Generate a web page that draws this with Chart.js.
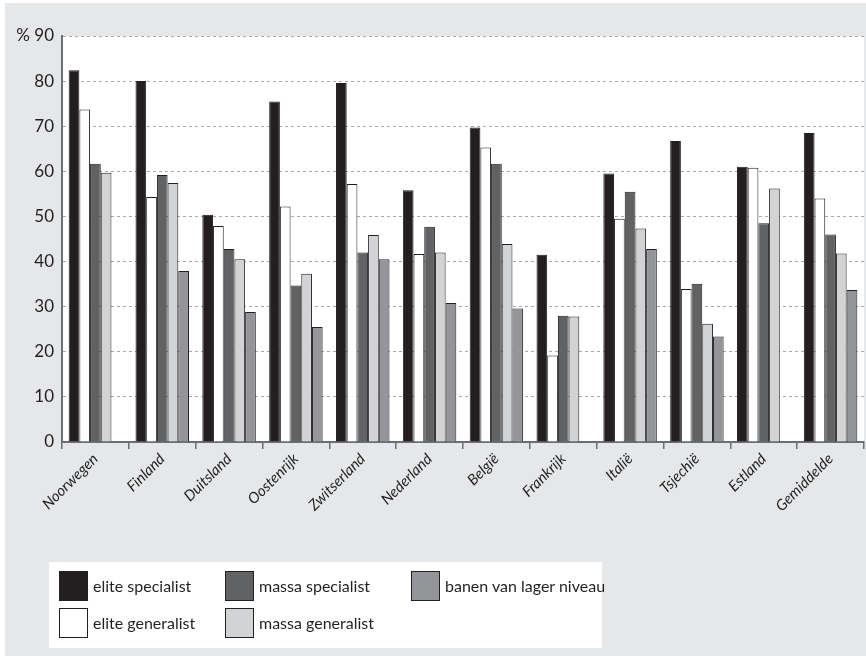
<!DOCTYPE html>
<html>
<head>
<meta charset="utf-8">
<script src="https://cdn.jsdelivr.net/npm/chart.js@4/dist/chart.umd.min.js"></script>
<style>
  body { margin: 0; background: #fff; font-family: Lato, "Liberation Sans", sans-serif; }
  #bg { position: absolute; left: 5px; top: 3px; width: 861px; height: 653px; background: #e6e7e8; }
  #wrap { position: absolute; left: 0; top: 0; width: 866px; height: 656px; }
  #legend {
    position: absolute; left: 49px; top: 562px; width: 553px; height: 86px; background: #fff;
    box-sizing: border-box; padding: 9px 0 0 10px;
    display: grid; grid-auto-flow: column; grid-template-rows: 37px 37px; grid-template-columns: 166px 186px auto;
  }
  .item { display: flex; align-items: flex-start; color: #231f20; font-size: 16px; white-space: nowrap; }
  .item span.box { width: 29px; height: 30px; box-sizing: border-box; border: 1.5px solid #231f20; margin-right: 5px; flex: none; }
  .item span.txt { line-height: 30px; }
</style>
</head>
<body>
<div id="bg"></div>
<div id="wrap"><canvas id="chart" width="866" height="656"></canvas></div>
<div id="legend"></div>
<script>
  // categories + series (values in %)
  var countries = ["Noorwegen", "Finland", "Duitsland", "Oostenrijk", "Zwitserland", "Nederland", "België", "Frankrijk", "Italië", "Tsjechië", "Estland", "Gemiddelde"];
  var eliteSpecialist   = [82.4, 80.0, 50.4, 75.5, 79.6, 55.8, 69.7, 41.5, 59.5, 66.7, 61.0, 68.5];
  var eliteGeneralist   = [73.7, 54.3, 47.9, 52.2, 57.2, 41.7, 65.3, 19.2, 49.5, 33.9, 60.8, 54.0];
  var massaSpecialist   = [61.7, 59.2, 42.8, 34.7, 42.0, 47.7, 61.7, 28.0, 55.5, 35.1, 48.5, 46.0];
  var massaGeneralist   = [59.7, 57.4, 40.5, 37.3, 45.9, 42.0, 43.9, 27.8, 47.3, 26.2, 56.2, 41.8];
  var lagerNiveau       = [null, 37.9, 28.8, 25.5, 40.5, 30.8, 29.6, null, 42.8, 23.4, null, 33.7];
  var yTickLabels = ["0", "10", "20", "30", "40", "50", "60", "70", "80", "% 90"];

  var FONT = 'Lato, "Liberation Sans", sans-serif';
  var INK = "#231f20";

  function ds(label, data, color) {
    return {
      label: label, data: data, backgroundColor: color,
      borderColor: INK, borderWidth: 1,
      categoryPercentage: 0.8, barPercentage: 1.0
    };
  }

  // white plot background
  var plotBg = {
    id: "plotBg",
    beforeDraw: function(chart) {
      var a = chart.chartArea, ctx = chart.ctx;
      ctx.save();
      ctx.fillStyle = "#fff";
      ctx.fillRect(a.left, a.top, a.right - a.left, a.bottom - a.top);
      ctx.restore();
    }
  };

  var chart = new Chart(document.getElementById("chart"), {
    type: "bar",
    data: {
      labels: countries,
      datasets: [
        ds("elite specialist", eliteSpecialist, "#231f20"),
        ds("elite generalist", eliteGeneralist, "#ffffff"),
        ds("massa specialist", massaSpecialist, "#616264"),
        ds("massa generalist", massaGeneralist, "#d1d3d4"),
        ds("banen van lager niveau", lagerNiveau, "#939598")
      ]
    },
    options: {
      responsive: false,
      animation: false,
      layout: { padding: { top: 36, right: 2, left: 0, bottom: 0 } },
      plugins: { legend: { display: false }, tooltip: { enabled: false } },
      scales: {
        x: {
          afterFit: function(s) { s.height = 214; },
          grid: { offset: true, drawOnChartArea: false, tickLength: 7, color: "#6d6e71", lineWidth: 1.5 },
          border: { color: "#6d6e71", width: 2 },
          ticks: {
            minRotation: 45, maxRotation: 45, padding: 1, autoSkip: false,
            color: INK, font: { family: FONT, size: 15, style: "italic" }
          }
        },
        y: {
          min: 0, max: 90,
          afterFit: function(s) { s.width = 62; },
          grid: {
            drawTicks: false,
            color: function(c) { return c.tick.value === 0 ? "rgba(0,0,0,0)" : "#a7a9ac"; },
            lineWidth: 1
          },
          // in v4 border.dash styles the grid lines, the axis line stays solid
          border: { color: "#6d6e71", width: 2, dash: [3, 3] },
          ticks: {
            stepSize: 10, padding: 8, color: INK,
            font: { family: FONT, size: 17 },
            callback: function(v, i) { return yTickLabels[i]; }
          }
        }
      }
    },
    plugins: [plotBg]
  });

  // html legend, filled column by column
  var legend = document.getElementById("legend");
  chart.data.datasets.forEach(function(d) {
    var it = document.createElement("div");
    it.className = "item";
    it.innerHTML = '<span class="box" style="background:' + d.backgroundColor + '"></span><span class="txt">' + d.label + '</span>';
    legend.appendChild(it);
  });
</script>
</body>
</html>
